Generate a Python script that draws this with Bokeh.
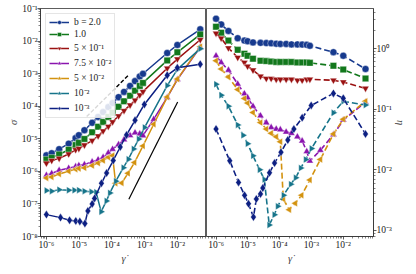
from bokeh.plotting import figure
from bokeh.layouts import row
from bokeh.models import FixedTicker, CustomJSTickFormatter, Range1d
from bokeh.embed import file_html
from bokeh.resources import INLINE

# ---------------- data ----------------
gamma_grid = [1.0e-6, 1.45e-6, 2.45e-6, 4.8e-6, 7.8e-6, 9.8e-6, 1.45e-5, 2.5e-5, 3.8e-5,
              5.4e-5, 7.8e-5, 1.05e-4, 1.6e-4, 2.35e-4, 3.6e-4, 5.1e-4, 7.1e-4, 8.9e-4,
              4.9e-3, 1.0e-2, 5.0e-2]

# b = 2.0
gamma_b2 = gamma_grid
sigma_b2 = [3.1e-6, 3.6e-6, 4.8e-6, 7.1e-6, 1.05e-5, 1.29e-5, 1.83e-5, 3.1e-5, 4.7e-5, 6.6e-5,
            9.4e-5, 1.25e-4, 1.9e-4, 2.75e-4, 4.2e-4, 5.9e-4, 8.2e-4, 9.9e-4, 4.3e-3, 7.6e-3, 2.3e-2]
eta_b2 = [3.1, 2.5, 1.95, 1.48, 1.35, 1.32, 1.26, 1.24, 1.23, 1.22, 1.20, 1.19, 1.19, 1.17,
          1.17, 1.16, 1.15, 1.11, 0.87, 0.76, 0.46]

# b = 1.0
gamma_b1 = gamma_grid
sigma_b1 = [2.3e-6, 2.6e-6, 3.3e-6, 4.6e-6, 6.4e-6, 7.5e-6, 9.9e-6, 1.58e-5, 2.36e-5, 3.3e-5,
            4.7e-5, 6.3e-5, 9.6e-5, 1.41e-4, 2.1e-4, 3.0e-4, 4.2e-4, 5.2e-4, 2.55e-3, 4.5e-3, 1.6e-2]
eta_b1 = [2.29, 1.82, 1.35, 0.95, 0.82, 0.76, 0.68, 0.63, 0.62, 0.61, 0.60, 0.60, 0.60, 0.60,
          0.59, 0.59, 0.59, 0.58, 0.52, 0.45, 0.32]

# b = 5e-1
gamma_b05 = gamma_grid
sigma_b05 = [1.78e-6, 2.15e-6, 2.5e-6, 3.4e-6, 4.6e-6, 5.0e-6, 6.4e-6, 8.8e-6, 1.22e-5, 1.73e-5,
             2.4e-5, 3.3e-5, 5.0e-5, 7.3e-5, 1.08e-4, 1.53e-4, 2.2e-4, 2.8e-4, 1.47e-3, 2.8e-3, 1.1e-2]
eta_b05 = [1.78, 1.48, 1.02, 0.71, 0.59, 0.51, 0.44, 0.35, 0.32, 0.32, 0.31, 0.31, 0.31, 0.31,
           0.30, 0.30, 0.31, 0.31, 0.30, 0.28, 0.22]

# b = 7.5e-2
gamma_b075 = [1.0e-6, 1.45e-6, 2.45e-6, 4.8e-6, 7.8e-6, 9.8e-6, 1.45e-5, 2.5e-5, 3.8e-5,
              5.4e-5, 7.8e-5, 1.05e-4, 1.6e-4, 2.35e-4, 3.6e-4, 5.1e-4, 7.1e-4, 8.9e-4,
              1.9e-3, 4.9e-3, 1.0e-2, 5.0e-2]
sigma_b075 = [7.6e-7, 8.6e-7, 1.08e-6, 1.25e-6, 1.4e-6, 1.52e-6, 1.62e-6, 1.95e-6, 2.28e-6, 2.7e-6,
              3.7e-6, 4.8e-6, 6.7e-6, 9.4e-6, 1.26e-5, 1.53e-5, 1.42e-5, 1.25e-5, 4.0e-5, 1.86e-4,
              6.6e-4, 6.5e-3]
eta_b075 = [0.76, 0.59, 0.44, 0.26, 0.18, 0.155, 0.112, 0.078, 0.060, 0.050, 0.047, 0.046, 0.042,
            0.040, 0.035, 0.030, 0.020, 0.014, 0.021, 0.038, 0.066, 0.13]

# b = 5e-2
gamma_b005 = [1.0e-6, 1.45e-6, 2.45e-6, 4.8e-6, 7.8e-6, 9.8e-6, 1.45e-5, 2.5e-5, 3.8e-5,
              5.4e-5, 7.8e-5, 1.05e-4, 1.3e-4, 2.0e-4, 3.1e-4, 4.9e-4, 8.9e-4, 1.9e-3,
              4.9e-3, 1.0e-2, 5.0e-2]
sigma_b005 = [6.3e-7, 6.7e-7, 8.3e-7, 1.01e-6, 1.17e-6, 1.23e-6, 1.28e-6, 1.5e-6, 1.79e-6, 2.16e-6,
              2.73e-6, 3.05e-6, 4.3e-7, 4.4e-7, 8.7e-7, 1.86e-6, 6.05e-6, 2.8e-5, 1.91e-4, 6.8e-4,
              6.75e-3]
eta_b005 = [0.63, 0.46, 0.34, 0.21, 0.15, 0.126, 0.088, 0.060, 0.047, 0.040, 0.035, 0.029,
            0.0033, 0.0022, 0.0028, 0.0038, 0.0068, 0.0148, 0.039, 0.068, 0.135]

# b = 1e-2
gamma_b001 = [1.0e-6, 1.45e-6, 2.45e-6, 4.8e-6, 7.1e-6, 9.8e-6, 1.45e-5, 2.35e-5, 3.3e-5,
              4.7e-5, 6.8e-5, 8.7e-5, 1.32e-4, 2.24e-4, 3.2e-4, 4.6e-4, 6.6e-4, 1.0e-3,
              4.9e-3, 1.0e-2, 5.0e-2]
sigma_b001 = [2.57e-7, 2.47e-7, 2.74e-7, 2.64e-7, 2.63e-7, 2.65e-7, 2.47e-7, 2.35e-7, 2.28e-7,
              5.8e-8, 1.24e-7, 2.18e-7, 5.0e-7, 1.3e-6, 2.37e-6, 4.9e-6, 9.8e-6, 2.24e-5,
              4.3e-4, 1.35e-3, 5.85e-3]
eta_b001 = [0.257, 0.17, 0.112, 0.055, 0.037, 0.027, 0.017, 0.010, 0.0069, 0.00123, 0.00182,
            0.0025, 0.0038, 0.0058, 0.0074, 0.0107, 0.0148, 0.0224, 0.087, 0.135, 0.117]

# b = 1e-3
gamma_b0001 = [1.0e-6, 2.7e-6, 5.1e-6, 7.9e-6, 1.05e-5, 1.5e-5, 1.85e-5, 2.5e-5, 2.95e-5,
               4.8e-5, 6.9e-5, 1.1e-4, 1.8e-4, 2.8e-4, 5.1e-4, 9.8e-4, 4.9e-3, 1.0e-2, 5.0e-2]
sigma_b0001 = [4.7e-8, 3.8e-8, 3.15e-8, 3.0e-8, 2.9e-8, 2.5e-8, 6.1e-8, 1.0e-7, 1.48e-7, 4.3e-7,
               8.9e-7, 2.15e-6, 5.6e-6, 1.31e-5, 3.7e-5, 1.13e-4, 8.9e-4, 1.51e-3, 1.95e-3]
eta_b0001 = [0.047, 0.0141, 0.0062, 0.0038, 0.00275, 0.00166, 0.0033, 0.0040, 0.0050, 0.0089,
             0.0129, 0.0195, 0.031, 0.047, 0.072, 0.115, 0.182, 0.151, 0.039]

labels = ["b = 2.0", "1.0", "5 \u00d7 10\u207b\u00b9", "7.5 \u00d7 10\u207b\u00b2",
          "5 \u00d7 10\u207b\u00b2", "10\u207b\u00b2", "10\u207b\u00b3"]

# reference slopes (slope 1 dashed, slope 2 solid)
guide_dash_x = [1.7e-5, 3.3e-4]
guide_dash_y = [4.8e-5, 9.2e-4]
guide_solid_x = [3.3e-4, 1.02e-2]
guide_solid_y = [1.4e-7, 1.35e-4]

# ---------------- styles ----------------
series = [
    (gamma_b2, sigma_b2, eta_b2),
    (gamma_b1, sigma_b1, eta_b1),
    (gamma_b05, sigma_b05, eta_b05),
    (gamma_b075, sigma_b075, eta_b075),
    (gamma_b005, sigma_b005, eta_b005),
    (gamma_b001, sigma_b001, eta_b001),
    (gamma_b0001, sigma_b0001, eta_b0001),
]
colors = ["#173a8e", "#12781c", "#9a1111", "#8a14ae", "#d3920f", "#16748a", "#0c1f82"]
markers = ["circle", "square", "inverted_triangle", "triangle", "triangle", "triangle", "diamond"]
angles = [0, 0, 0, 0, 1.5708, -1.5708, 0]
sizes = [7, 6.5, 7, 7, 7, 7, 8.5]

FONT = "Liberation Serif"

sup_code = """
const sup = {"-": "\\u207b", "0": "\\u2070", "1": "\\u00b9", "2": "\\u00b2", "3": "\\u00b3",
             "4": "\\u2074", "5": "\\u2075", "6": "\\u2076", "7": "\\u2077", "8": "\\u2078", "9": "\\u2079"};
const e = Math.round(Math.log10(tick));
let s = "10";
for (const c of String(e)) { s += sup[c]; }
return s;
"""


def majors(lo, hi):
    return [10.0 ** e for e in range(lo, hi + 1)]


def minors(lo, hi):
    return [k * 10.0 ** e for e in range(lo, hi + 1) for k in range(2, 10)]


def style_axis(ax, label):
    ax.formatter = CustomJSTickFormatter(code=sup_code)
    ax.major_label_text_font = FONT
    ax.major_label_text_font_size = "9.5px"
    ax.major_label_text_color = "#222222"
    ax.axis_line_color = "#333333"
    ax.axis_line_width = 0.8
    ax.major_tick_out = 3
    ax.major_tick_in = 0
    ax.minor_tick_out = 2
    ax.minor_tick_in = 0
    ax.major_tick_line_color = "#333333"
    ax.minor_tick_line_color = "#333333"
    ax.major_tick_line_width = 0.8
    ax.minor_tick_line_width = 0.6
    ax.major_label_standoff = 0
    ax.axis_label = label
    ax.axis_label_text_font = FONT
    ax.axis_label_text_font_style = "italic"
    ax.axis_label_text_font_size = "10.5px"
    ax.axis_label_standoff = 0


H = 266
p1 = figure(width=206, height=H, x_axis_type="log", y_axis_type="log",
            x_range=Range1d(10 ** -6.18, 10 ** -1.11), y_range=Range1d(1e-8, 1e-1),
            output_backend="svg", toolbar_location=None,
            min_border_left=40, min_border_right=0, min_border_top=8, min_border_bottom=26)
p2 = figure(width=202, height=H, x_axis_type="log", y_axis_type="log",
            x_range=Range1d(10 ** -6.30, 10 ** -1.05), y_range=Range1d(10 ** -3.1, 10 ** 0.66),
            y_axis_location="right",
            output_backend="svg", toolbar_location=None,
            min_border_left=0, min_border_right=33, min_border_top=8, min_border_bottom=26)

for p in (p1, p2):
    p.grid.grid_line_color = None
    p.outline_line_color = "#333333"
    p.outline_line_width = 0.8
    p.background_fill_color = "white"
    p.border_fill_color = "white"

# left panel: stress
p1.line(guide_dash_x, guide_dash_y, line_color="black", line_width=1.4, line_dash="4 2")
p1.line(guide_solid_x, guide_solid_y, line_color="black", line_width=1.2)
for (g, s, e), c, m, a, sz, lab in zip(series, colors, markers, angles, sizes, labels):
    p1.line(g, s, line_color=c, line_width=1.5, legend_label=lab)
    p1.scatter(g, s, marker=m, angle=a, size=sz, fill_color=c, line_color="white",
               line_width=0.5, line_alpha=0.8, legend_label=lab)

# right panel: viscosity
for (g, s, e), c, m, a, sz in zip(series, colors, markers, angles, sizes):
    p2.line(g, e, line_color=c, line_width=1.6, line_dash="6 3")
    p2.scatter(g, e, marker=m, angle=a, size=sz, fill_color=c, line_color="white",
               line_width=0.5, line_alpha=0.8)

p1.xaxis.ticker = FixedTicker(ticks=majors(-6, -1), minor_ticks=minors(-7, -1))
p1.yaxis.ticker = FixedTicker(ticks=majors(-8, -1), minor_ticks=minors(-9, -1))
p2.xaxis.ticker = FixedTicker(ticks=majors(-6, -1), minor_ticks=minors(-7, -1))
p2.yaxis.ticker = FixedTicker(ticks=majors(-3, 0), minor_ticks=minors(-4, 0))

style_axis(p1.xaxis[0], "\u03b3\u0307")
style_axis(p1.yaxis[0], "\u03c3")
style_axis(p2.xaxis[0], "\u03b3\u0307")
style_axis(p2.yaxis[0], "\u03b7")

lg = p1.legend[0]
lg.location = "top_left"
lg.margin = 5
lg.padding = 3
lg.spacing = 2
lg.label_height = 10
lg.glyph_height = 10
lg.glyph_width = 20
lg.label_standoff = 5
lg.label_text_font = FONT
lg.label_text_font_size = "9.5px"
lg.label_text_color = "#222222"
lg.border_line_color = "#cccccc"
lg.border_line_width = 1
lg.background_fill_alpha = 0.85

layout = row(p1, p2)
with open("out.html", "w", encoding="utf-8") as f:
    f.write(file_html(layout, INLINE))
